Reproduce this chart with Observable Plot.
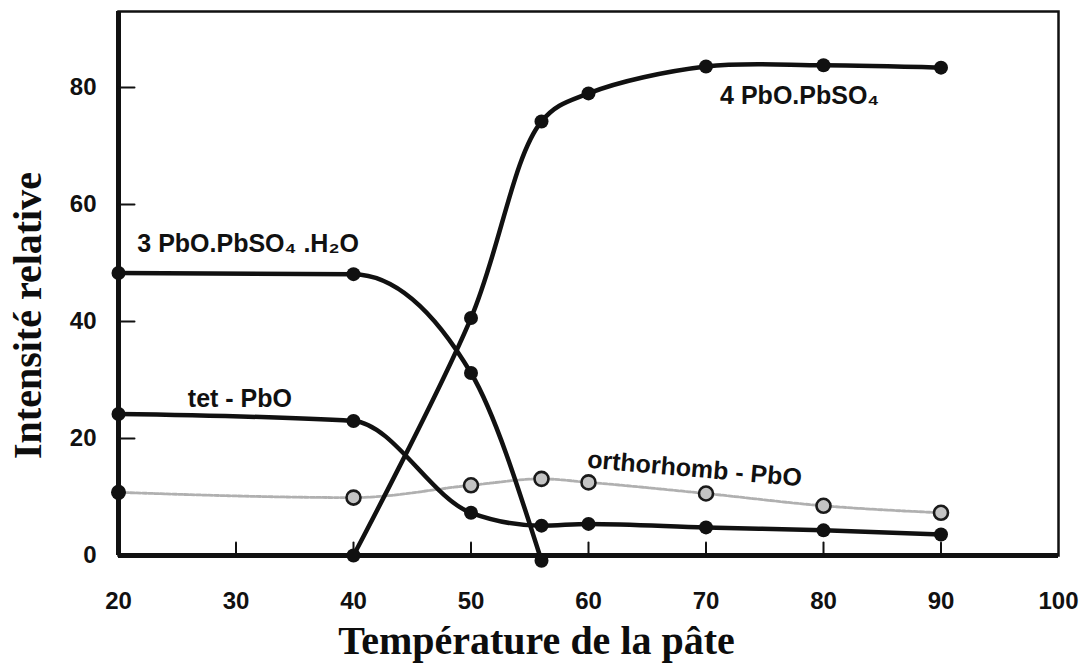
<!DOCTYPE html>
<html><head><meta charset="utf-8">
<script src="https://cdn.jsdelivr.net/npm/d3@7"></script>
<script src="https://cdn.jsdelivr.net/npm/@observablehq/plot@0.6"></script>
<style>body{margin:0;background:#fff;overflow:hidden}</style>
</head><body><div id="chart"></div>
<script>
// Data
const tempsTribasic = [20, 40, 50, 56];
const tribasic = [48.3, 48.1, 31.2, -0.9];          // 3PbO.PbSO4.H2O
const tempsTetrabasic = [40, 50, 56, 60, 70, 80, 90];
const tetrabasic = [0, 40.6, 74.2, 79, 83.6, 83.8, 83.4]; // 4PbO.PbSO4
const tempsTet = [20, 40, 50, 56, 60, 70, 80, 90];
const tetPbO = [24.2, 23, 7.3, 5.1, 5.4, 4.8, 4.3, 3.6];
const tempsOrtho = [20, 40, 50, 56, 60, 70, 80, 90];
const orthoPbO = [10.8, 9.9, 12, 13.1, 12.5, 10.6, 8.5, 7.3];

const xTickLabels = [20, 30, 40, 50, 60, 70, 80, 90, 100];
const xInnerTicks = [30, 40, 50, 60, 70, 80, 90];
const yTickLabels = [0, 20, 40, 60, 80];
const yInnerTicks = [20, 40, 60, 80];

const seriesNames = ["3 PbO.PbSO₄ .H₂O", "tet - PbO", "4 PbO.PbSO₄", "orthorhomb - PbO"];
const labelX = [21.6, 25.9, 71.2, 59.9];
const labelY = [53.3, 26.8, 78.6, 16.4];
const labelRotate = [0, 0, 0, 5];

const xTitle = "Température de la pâte";
const yTitle = "Intensité relative";

const toRows = (xs, ys) => xs.map((x, i) => ({x, y: ys[i]}));
const triRows = toRows(tempsTribasic, tribasic);
const tetraRows = toRows(tempsTetrabasic, tetrabasic);
const tetRows = toRows(tempsTet, tetPbO);
const orthoRows = toRows(tempsOrtho, orthoPbO);
const labelRows = seriesNames.map((t, i) => ({t, x: labelX[i], y: labelY[i], r: labelRotate[i]}));

const tickShape = {draw(context, l) { context.moveTo(0, 0); context.lineTo(0, -l); }};
const ink = "#111";
const curveOpts = {x: "x", y: "y", curve: "monotone-x", stroke: ink, strokeWidth: 4.5};
const serif = "Liberation Serif, Times New Roman, serif";

const chart = Plot.plot({
  width: 1089,
  height: 669,
  marginLeft: 118,
  marginRight: 31,
  marginTop: 11,
  marginBottom: 114,
  style: {fontFamily: "Liberation Sans, Arial, sans-serif", background: "#fff", color: ink},
  x: {domain: [20, 100]},
  y: {domain: [0, 93]},
  marks: [
    Plot.frame({stroke: ink, strokeWidth: 2.5}),
    Plot.ruleX([20], {stroke: ink, strokeWidth: 5}),
    Plot.ruleY([0], {stroke: ink, strokeWidth: 5}),
    Plot.vector(xInnerTicks, {x: d => d, y: 0, length: 13, rotate: 0, anchor: "start", shape: tickShape, stroke: ink, strokeWidth: 2}),
    Plot.vector(yInnerTicks, {x: 20, y: d => d, length: 16, rotate: 90, anchor: "start", shape: tickShape, stroke: ink, strokeWidth: 2}),
    Plot.axisX({ticks: xTickLabels, tickSize: 0, tickPadding: 36, fontSize: 24, fontWeight: "bold", label: null, fill: ink}),
    Plot.axisY({ticks: yTickLabels, tickSize: 0, tickPadding: 22, fontSize: 24, fontWeight: "bold", label: null, fill: ink}),
    // orthorhombic PbO (grey)
    Plot.line(orthoRows, {x: "x", y: "y", curve: "monotone-x", stroke: "#b0b0b0", strokeWidth: 2.8, strokeDasharray: "4 2"}),
    Plot.line(triRows, curveOpts),
    Plot.line(tetraRows, {...curveOpts, curve: "catmull-rom"}),
    Plot.line(tetRows, curveOpts),
    Plot.dot(triRows, {x: "x", y: "y", r: 7, fill: ink}),
    Plot.dot(tetraRows, {x: "x", y: "y", r: 7, fill: ink}),
    Plot.dot(tetRows, {x: "x", y: "y", r: 7, fill: ink}),
    Plot.dot(orthoRows.slice(0, 1), {x: "x", y: "y", r: 7.5, fill: ink}),
    Plot.dot(orthoRows.slice(1), {x: "x", y: "y", r: 7, fill: "#c4c4c4", stroke: "#1a1a1a", strokeWidth: 2.6}),
    Plot.text(labelRows, {x: "x", y: "y", text: "t", rotate: "r", textAnchor: "start", fontSize: 25, fontWeight: "bold", fill: ink}),
    Plot.text([xTitle], {frameAnchor: "bottom", textAnchor: "middle", lineAnchor: "middle", dx: -52, dy: 86, fontSize: 40, fontWeight: "bold", fontFamily: serif, fill: "#0d0d0d"}),
    Plot.text([yTitle], {frameAnchor: "left", textAnchor: "middle", lineAnchor: "middle", rotate: -90, dx: -90, dy: 32, fontSize: 40, fontWeight: "bold", fontFamily: serif, fill: "#0d0d0d"})
  ]
});
document.getElementById("chart").append(chart);
</script>
</body></html>
